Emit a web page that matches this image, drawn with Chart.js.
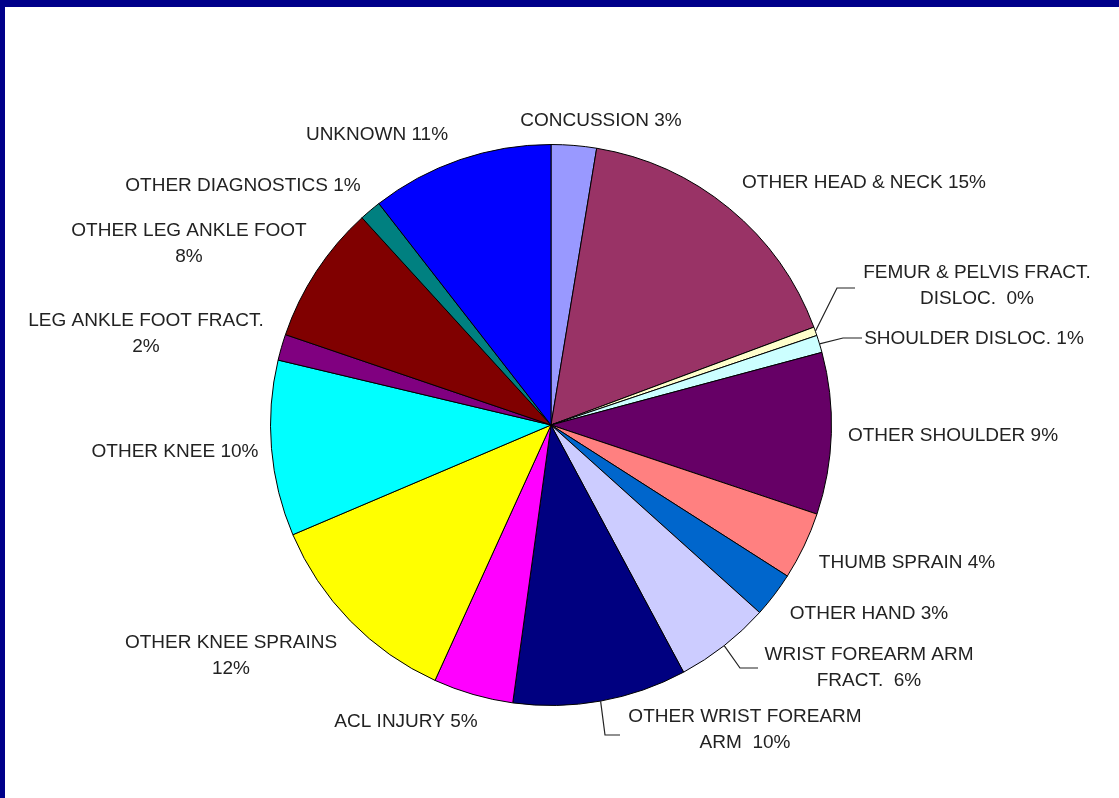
<!DOCTYPE html>
<html>
<head>
<meta charset="utf-8">
<title>Injury diagnoses</title>
<script src="https://cdn.jsdelivr.net/npm/chart.js@4.4.1/dist/chart.umd.min.js"></script>
<style>
  html, body { margin: 0; padding: 0; }
  body {
    width: 1119px; height: 798px; overflow: hidden;
    background: #fff;
    box-sizing: border-box;
    border-top: 7px solid #00008a;
    border-left: 5px solid #00008a;
  }
  #wrap { position: relative; width: 1114px; height: 791px; }
</style>
</head>
<body>
<div id="wrap"><canvas id="pie"></canvas></div>
<script>
// slice data, clockwise from 12 o'clock
const categories = [
  "CONCUSSION", "OTHER HEAD & NECK", "FEMUR & PELVIS FRACT. DISLOC.", "SHOULDER DISLOC.",
  "OTHER SHOULDER", "THUMB SPRAIN", "OTHER HAND", "WRIST FOREARM ARM FRACT.",
  "OTHER WRIST FOREARM ARM", "ACL INJURY", "OTHER KNEE SPRAINS", "OTHER KNEE",
  "LEG ANKLE FOOT FRACT.", "OTHER LEG ANKLE FOOT", "OTHER DIAGNOSTICS", "UNKNOWN"
];
const shares = [2.6, 16.7, 0.5, 1.0, 9.3, 3.9, 2.6, 5.5, 10.0, 4.6, 11.8, 10.1, 1.5, 8.0, 1.25, 10.5];
const pctLabels = ["3%", "15%", "0%", "1%", "9%", "4%", "3%", "6%", "10%", "5%", "12%", "10%", "2%", "8%", "1%", "11%"];
const colors = [
  "#9999ff", "#993366", "#ffffcc", "#ccffff", "#660066", "#ff8080", "#0066cc", "#ccccff",
  "#000080", "#ff00ff", "#ffff00", "#00ffff", "#800080", "#800000", "#008080", "#0000ff"
];

// label text lines and where they sit, relative to the pie centre
const labelPlace = [
  { lines: ["CONCUSSION 3%"], dx: 50, dy: -304 },
  { lines: ["OTHER HEAD & NECK 15%"], dx: 313, dy: -242 },
  { lines: ["FEMUR & PELVIS FRACT.", "DISLOC.  0%"], dx: 426, dy: -152, leader: [[286, -137], [304, -137]] },
  { lines: ["SHOULDER DISLOC. 1%"], dx: 423, dy: -86, leader: [[292, -87], [311, -87]] },
  { lines: ["OTHER SHOULDER 9%"], dx: 402, dy: 11 },
  { lines: ["THUMB SPRAIN 4%"], dx: 356, dy: 138 },
  { lines: ["OTHER HAND 3%"], dx: 318, dy: 189 },
  { lines: ["WRIST FOREARM ARM", "FRACT.  6%"], dx: 318, dy: 230, leader: [[189, 243], [207, 243]] },
  { lines: ["OTHER WRIST FOREARM", "ARM  10%"], dx: 194, dy: 292, leader: [[54, 310], [69, 310]] },
  { lines: ["ACL INJURY 5%"], dx: -145, dy: 297 },
  { lines: ["OTHER KNEE SPRAINS", "12%"], dx: -320, dy: 218 },
  { lines: ["OTHER KNEE 10%"], dx: -376, dy: 27 },
  { lines: ["LEG ANKLE FOOT FRACT.", "2%"], dx: -405, dy: -104 },
  { lines: ["OTHER LEG ANKLE FOOT", "8%"], dx: -362, dy: -194 },
  { lines: ["OTHER DIAGNOSTICS 1%"], dx: -308, dy: -239 },
  { lines: ["UNKNOWN 11%"], dx: -174, dy: -290 }
];

const labelPlugin = {
  id: "sliceLabels",
  afterDraw(chart) {
    const ctx = chart.ctx;
    const arcs = chart.getDatasetMeta(0).data;
    ctx.save();
    ctx.font = "19px 'Liberation Sans', Arial, sans-serif";
    ctx.fillStyle = "#222";
    ctx.textAlign = "center";
    ctx.textBaseline = "middle";
    ctx.strokeStyle = "#222";
    ctx.lineWidth = 1.2;
    arcs.forEach((arc, i) => {
      const p = labelPlace[i];
      const cx = arc.x, cy = arc.y;
      if (p.leader) {
        const mid = (arc.startAngle + arc.endAngle) / 2;
        ctx.beginPath();
        ctx.moveTo(cx + Math.cos(mid) * arc.outerRadius, cy + Math.sin(mid) * arc.outerRadius);
        p.leader.forEach(pt => ctx.lineTo(cx + pt[0], cy + pt[1]));
        ctx.stroke();
      }
      p.lines.forEach((ln, k) => {
        ctx.fillText(ln, cx + p.dx, cy + p.dy + k * 26);
      });
    });
    ctx.restore();
  }
};

new Chart(document.getElementById("pie"), {
  type: "pie",
  data: {
    labels: categories.map((c, i) => c + " " + pctLabels[i]),
    datasets: [{
      data: shares,
      backgroundColor: colors,
      borderColor: "#000",
      borderWidth: 1
    }]
  },
  options: {
    responsive: true,
    maintainAspectRatio: false,
    animation: false,
    layout: { padding: { left: 265, right: 287, top: 137, bottom: 92 } },
    plugins: {
      legend: { display: false },
      tooltip: { enabled: false }
    }
  },
  plugins: [labelPlugin]
});
</script>
</body>
</html>
